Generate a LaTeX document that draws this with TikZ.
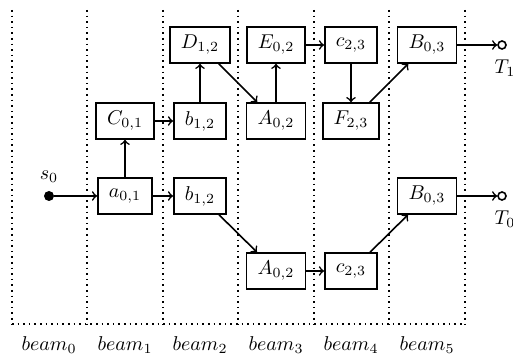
\documentclass[tikz,border=0pt]{standalone}
\begin{document}
\begin{tikzpicture}[x=0.5pt,y=-0.5pt,
  box/.style={draw,thick,inner xsep=5.5pt,inner ysep=0pt,minimum height=18pt},
  conn/.style={->,thick},
  beamline/.style={thick,dotted},
  term/.style={draw,thick,circle,fill=white,inner sep=0pt,minimum size=4pt},
  startdot/.style={fill,circle,inner sep=0pt,minimum size=5pt},
  lbl/.style={inner sep=0pt}]
\useasboundingbox (0,0) rectangle (513,356);
% beam separators
\foreach \x in {12,87,163,238,314,389,465}
  \draw[beamline] (\x,10) -- (\x,324);
\draw[beamline] (12,324) -- (465,324);
% beam labels
\foreach \i/\x in {0/49,1/125,2/200,3/276,4/351,5/427}
  \node[lbl] (beam\i) at (\x,345) {$beam_{\i}$};
% nodes
\node[startdot] (s0) at (49,196) {};
\node[lbl] (s0l) at (49,177) {$s_0$};
\node[box] (a01) at (125,196) {$a_{0,1}$};
\node[box] (C01) at (125,121) {$C_{0,1}$};
\node[box] (b12m) at (200,121) {$b_{1,2}$};
\node[box] (D12) at (200,45) {$D_{1,2}$};
\node[box] (b12b) at (200,196) {$b_{1,2}$};
\node[box] (A02m) at (276,121) {$A_{0,2}$};
\node[box] (E02) at (276,45) {$E_{0,2}$};
\node[box] (A02b) at (276,271) {$A_{0,2}$};
\node[box] (c23t) at (351,45) {$c_{2,3}$};
\node[box] (F23) at (351,121) {$F_{2,3}$};
\node[box] (c23b) at (351,271) {$c_{2,3}$};
\node[box] (B03t) at (427,45) {$B_{0,3}$};
\node[box] (B03b) at (427,196) {$B_{0,3}$};
\node[term] (T1) at (502,45) {};
\node[term] (T0) at (502,196) {};
\node[lbl] (T1l) at (505,68) {$T_1$};
\node[lbl] (T0l) at (505,219) {$T_0$};
% connectors
\draw[conn] (s0) -- (a01);
\draw[conn] (a01) -- (C01);
\draw[conn] (a01) -- (b12b);
\draw[conn] (C01) -- (b12m);
\draw[conn] (b12m) -- (D12);
\draw[conn] (D12) -- (A02m);
\draw[conn] (A02m) -- (E02);
\draw[conn] (E02) -- (c23t);
\draw[conn] (c23t) -- (F23);
\draw[conn] (F23) -- (B03t);
\draw[conn] (B03t) -- (T1);
\draw[conn] (b12b) -- (A02b);
\draw[conn] (A02b) -- (c23b);
\draw[conn] (c23b) -- (B03b);
\draw[conn] (B03b) -- (T0);
\end{tikzpicture}
\end{document}
